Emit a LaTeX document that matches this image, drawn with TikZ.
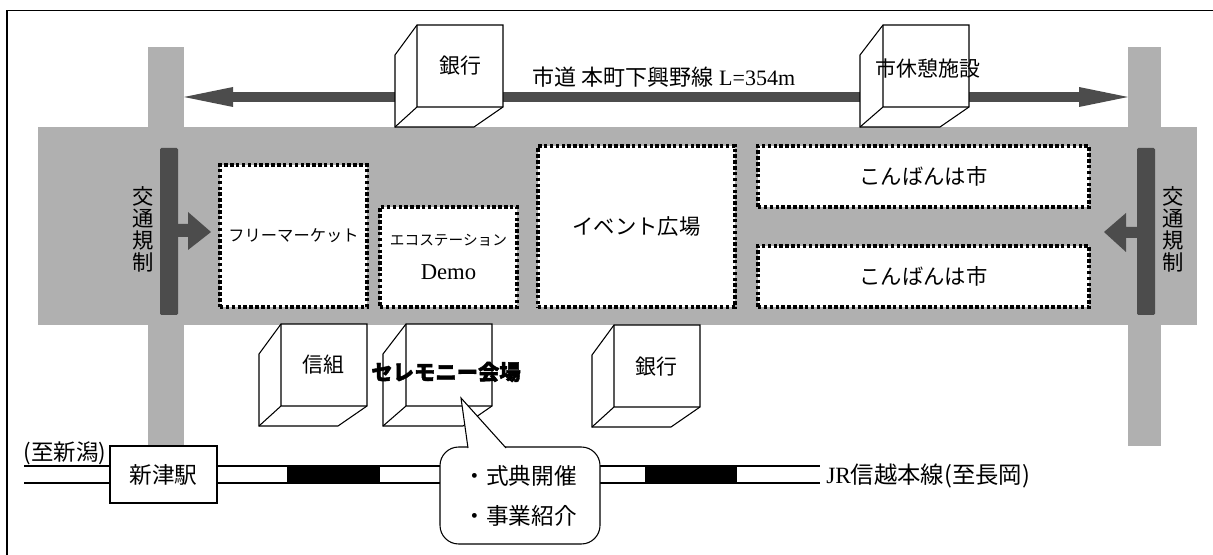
\documentclass[tikz,border=0pt]{standalone}
\usepackage{fontspec}
\setmainfont{Liberation Serif}
\newfontfamily\jpfont[BoldFeatures={FakeBold=2}]{Noto Sans CJK JP}
\usepackage{xcolor}
\usepackage{tikz}
\usetikzlibrary{shapes,arrows,positioning,calc,arrows.meta}
\newcommand{\px}{0.75pt}
\definecolor{roadgray}{HTML}{B0B0B0}
\definecolor{bargray}{HTML}{4C4C4C}
\tikzset{
    event/.style={draw,line width=2.6pt,dash pattern=on 2.6pt off 1.8pt,fill=white,inner sep=0pt,font=\jpfont\fontsize{16}{18}\selectfont},
    label/.style={inner sep=0pt,font=\jpfont\fontsize{15.7}{18}\selectfont},
    sign/.style={inner sep=0pt,align=center,font=\jpfont\fontsize{16}{16.5}\selectfont},
    cube/.style={draw,fill=white,line width=0.8pt,line join=miter}
}
% building: lower left corner and width
\newcommand{\building}[3]{
    \draw[cube] (#1,#2-72) -- ++(#3-86,-30) -- ++(86,0) -- ++(0,82) -- ++(-29,20) -- (#1,#2) -- cycle;
    \draw[cube,fill=none] (#1+#3-86,#2-102) -- ++(0,82) -- ++(86,0) (#1+#3-86,#2-20) -- (#1,#2);
}
\begin{document}
\begin{tikzpicture}[x=\px,y=-\px]
    \useasboundingbox (0,0) rectangle (1213,555);
    % frame, open at right and below
    \draw[line width=1.4pt] (7,555) -- (7,10.5) -- (1213,10.5);
    % roads
    \fill[roadgray] (148,47) rectangle (184,446);
    \fill[roadgray] (1128,47) rectangle (1161,446);
    \fill[roadgray] (38,127) rectangle (1197,325);
    % city road arrow
    \coordinate (roadL) at (184,97);
    \coordinate (roadR) at (1128,97);
    \draw[line width=7.4pt,bargray] (225,97) -- (1085,97);
    \fill[bargray] (roadL) -- (233,87) -- (233,107) -- cycle;
    \fill[bargray] (roadR) -- (1079,87) -- (1079,107) -- cycle;
    \node[inner sep=0pt,font=\fontsize{16.5}{18}\selectfont] (roadname) at (664,77) {{\jpfont 市道 本町下興野線} L=354m};
    % buildings along the road
    \building{395}{127}{108}
    \node[label] (bank1) at (460,66) {銀行};
    \building{860}{127}{109}
    \node[label] (rest) at (928,68) {市休憩施設};
    % event areas
    \node[event,minimum width=147*\px,minimum height=142*\px,font=\jpfont\fontsize{12.2}{15}\selectfont] (market) at (293.5,236) {フリーマーケット};
    \node[event,minimum width=137*\px,minimum height=100*\px,align=center,font=\fontsize{17}{26}\selectfont] (eco) at (448.5,257) {{\jpfont\fontsize{11}{26}\selectfont エコステーション}\\Demo};
    \node[event,minimum width=197*\px,minimum height=161*\px] (plaza) at (636.5,226.5) {イベント広場};
    \node[event,minimum width=331*\px,minimum height=61*\px] (night1) at (923.5,176.5) {こんばんは市};
    \node[event,minimum width=331*\px,minimum height=61*\px] (night2) at (923.5,276.5) {こんばんは市};
    % traffic barriers
    \fill[bargray,rounded corners=1pt] (160,148) rectangle (178,315);
    \fill[bargray] (178,224) -- (188,224) -- (188,212) -- (211,232) -- (188,250) -- (188,237) -- (178,237) -- cycle;
    \node[sign] (signL) at (143,229) {交\\通\\規\\制};
    \fill[bargray,rounded corners=1pt] (1137,148) rectangle (1155,315);
    \fill[bargray] (1137,227) -- (1126,227) -- (1126,213) -- (1104,232) -- (1126,252) -- (1126,238) -- (1137,238) -- cycle;
    \node[sign] (signR) at (1173,229) {交\\通\\規\\制};
    % railway
    \coordinate (railL) at (24,466);
    \coordinate (railR) at (820,466);
    \draw[line width=1.4pt] (railL) -- (railR) (24,483) -- (820,483);
    \fill (287,466) rectangle (380,483);
    \fill (645,466) rectangle (737,483);
    \node[draw,fill=white,line width=0.8pt,minimum width=107*\px,minimum height=57*\px,inner sep=0pt,font=\jpfont\fontsize{17}{19}\selectfont] (station) at (163.5,474.5) {新津駅};
    \node[label,font=\jpfont\fontsize{16.8}{19}\selectfont] (niigata) at (65,453) {(至新潟)};
    \node[inner sep=0pt,anchor=west,font=\fontsize{17.5}{20}\selectfont] (jr) at (826,476) {JR{\jpfont 信越本線(至長岡)}};
    % buildings below the road
    \building{259}{426}{108}
    \node[label] (union) at (323,365) {信組};
    \building{383}{426}{109}
    \building{592}{427}{108}
    \node[label] (bank2) at (656,367) {銀行};
    % ceremony callout
    \node[inner sep=0pt,font=\jpfont\bfseries\fontsize{16}{18}\selectfont] (hall) at (446,372) {セレモニー会場};
    \coordinate (tip) at (461,398);
    \node[draw,fill=white,line width=0.8pt,rounded corners=14pt,minimum width=160*\px,minimum height=97*\px,inner sep=0pt,align=left,font=\jpfont\fontsize{17}{30}\selectfont] (note) at (520,495.5) {・式典開催\\・事業紹介};
    \draw[fill=white,line width=0.8pt] (468,448) -- (tip) -- (506,448);
\end{tikzpicture}
\end{document}
